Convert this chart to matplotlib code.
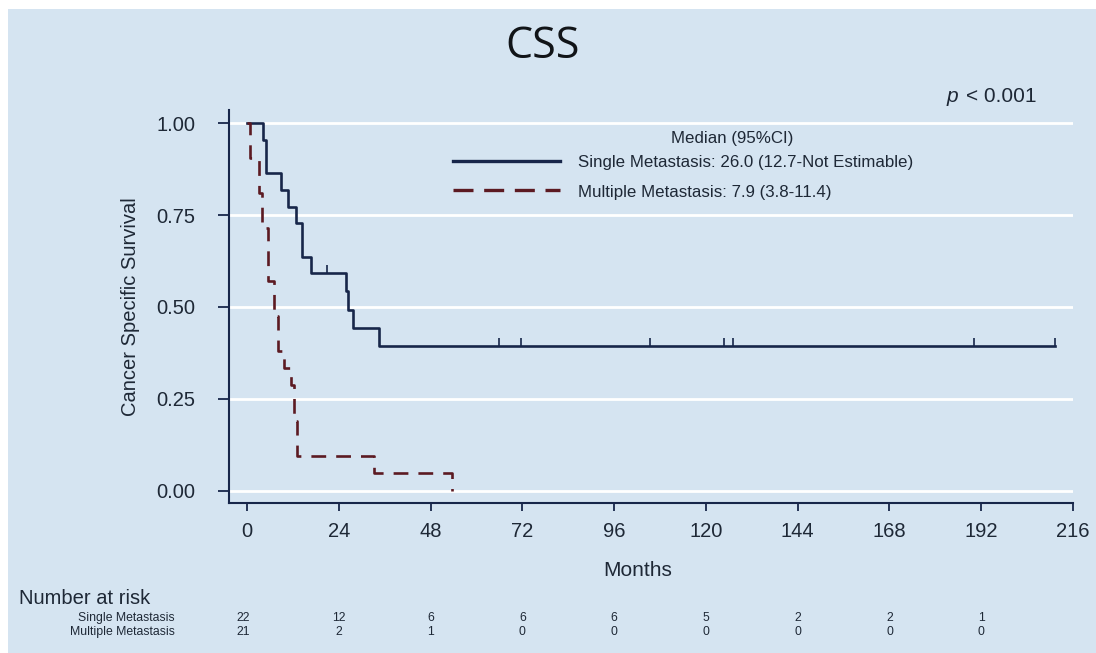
import numpy as np
import matplotlib
matplotlib.use("Agg")
import matplotlib.pyplot as plt
import matplotlib.transforms as mtrans
from matplotlib.patches import Rectangle

# ---------------- data ----------------
single_times = [0, 4.1, 4.9, 8.8, 10.6, 12.8, 14.5, 16.7, 25.9, 26.4, 27.7, 34.4, 211.4]
single_surv = [1.0, 0.955, 0.864, 0.818, 0.773, 0.727, 0.636, 0.591, 0.542, 0.492, 0.443, 0.394, 0.394]
single_censor = [20.9, 66.0, 71.6, 105.3, 124.8, 127.2, 190.1, 211.4]

multi_times = [0, 0.7, 3.2, 4.0, 5.5, 7.0, 8.2, 9.8, 11.5, 12.3, 13.2, 33.3, 53.6, 53.6]
multi_surv = [1.0, 0.905, 0.810, 0.714, 0.571, 0.476, 0.381, 0.333, 0.286, 0.190, 0.095, 0.048, 0.0, 0.0]

x_ticks = [0, 24, 48, 72, 96, 120, 144, 168, 192, 216]
y_ticks = [0.00, 0.25, 0.50, 0.75, 1.00]
risk_times = [0, 24, 48, 72, 96, 120, 144, 168, 192]
risk_single = [22, 12, 6, 6, 6, 5, 2, 2, 1]
risk_multi = [21, 2, 1, 0, 0, 0, 0, 0, 0]
group_names = ["Single Metastasis", "Multiple Metastasis"]

legend_title = "Median (95%CI)"
label_single = "Single Metastasis: 26.0 (12.7-Not Estimable)"
label_multi = "Multiple Metastasis: 7.9 (3.8-11.4)"

# ---------------- style ----------------
plt.rcParams['font.family'] = ['Liberation Sans', 'DejaVu Sans']
BG = '#d5e4f1'
TXT = '#1e2836'
NAVY = '#17264a'
RED = '#5c1a22'
DASH = (0, (5.6, 3.8))

W, H = 1096, 653
fig = plt.figure(figsize=(W / 100, H / 100), dpi=100, facecolor='white')
fig.patches.append(Rectangle((8 / W, 0), 1 - 8 / W, (H - 9) / H,
                             transform=fig.transFigure, facecolor=BG, edgecolor='none', zorder=-10))


def fx(px):
    return px / W


def fy(py):
    return 1 - py / H


ax = fig.add_axes([fx(229), fy(503), (1073 - 229) / W, (503 - 110) / H])
ax.set_facecolor('none')
ax.set_xlim(-4.7, 216)
ax.set_ylim(-0.034, 1.036)

for y in y_ticks:
    ax.axhline(y, color='white', lw=2.0, zorder=1)

ax.step(single_times, single_surv, where='post', color=NAVY, lw=1.9, zorder=3)
st = np.array(single_times)
ss = np.array(single_surv)
cens_y = [ss[np.searchsorted(st, c, side='right') - 1] for c in single_censor]
ax.plot(single_censor, cens_y, linestyle='none', marker=2, markersize=6,
        markeredgewidth=1.2, color=NAVY, zorder=3)

ax.step(multi_times, multi_surv, where='post', color=RED, lw=1.9, linestyle=DASH, zorder=3)

for s in ['top', 'right']:
    ax.spines[s].set_visible(False)
for s in ['left', 'bottom']:
    ax.spines[s].set_color(NAVY)
    ax.spines[s].set_linewidth(1.5)

ax.set_xticks(x_ticks)
ax.set_xticklabels([str(v) for v in x_ticks])
ax.set_yticks(y_ticks)
ax.set_yticklabels([f"{v:.2f}" for v in y_ticks])
ax.tick_params(axis='y', length=8, width=1.3, color=NAVY, pad=16, labelsize=14.5, labelcolor=TXT)
ax.tick_params(axis='x', length=6, width=1.3, color=NAVY, pad=8, labelsize=14.5, labelcolor=TXT)

ax.set_ylabel("Cancer Specific Survival", fontsize=14.5, color=TXT, labelpad=12)
fig.text(fx(638), fy(570), "Months", fontsize=15, color=TXT, ha='center', va='center')

# legend (manual, styled like the original)
fig.text(fx(732), fy(138), legend_title, fontsize=12.2, color=TXT, ha='center', va='center')
fig.add_artist(plt.Line2D([fx(453), fx(560)], [fy(161), fy(161)],
                          transform=fig.transFigure, color=NAVY, lw=2.4))
fig.add_artist(plt.Line2D([fx(453), fx(560)], [fy(190), fy(190)],
                          transform=fig.transFigure, color=RED, lw=2.4, linestyle=(0, (6, 3.2))))
fig.text(fx(578), fy(163), label_single, fontsize=12.2, color=TXT, ha='left', va='center')
fig.text(fx(578), fy(192), label_multi, fontsize=12.2, color=TXT, ha='left', va='center')

# title and p value
fig.text(fx(543), fy(47), "CSS", fontsize=31, color='#111418', ha='center', va='center',
         family=['Open Sans', 'DejaVu Sans'])
fig.text(fx(947), fy(97), "p", fontsize=15, style='italic', color=TXT, ha='left', va='center')
fig.text(fx(966), fy(97), "< 0.001", fontsize=15, color=TXT, ha='left', va='center')

# number at risk table
fig.text(fx(19), fy(598), "Number at risk", fontsize=14.5, color=TXT, ha='left', va='center')
row_y = [618, 632]
for name, yy in zip(group_names, row_y):
    fig.text(fx(175), fy(yy), name, fontsize=8.8, color=TXT, ha='right', va='center')
trans = mtrans.blended_transform_factory(ax.transData, fig.transFigure)
for i, t in enumerate(risk_times):
    xx = t - 1.0 if i == 0 else t
    for vals, yy in zip([risk_single, risk_multi], row_y):
        ax.text(xx, fy(yy), str(vals[i]), transform=trans, fontsize=8.8, color=TXT,
                ha='center', va='center', clip_on=False)

fig.savefig("out.png", dpi=100, facecolor=fig.get_facecolor())
